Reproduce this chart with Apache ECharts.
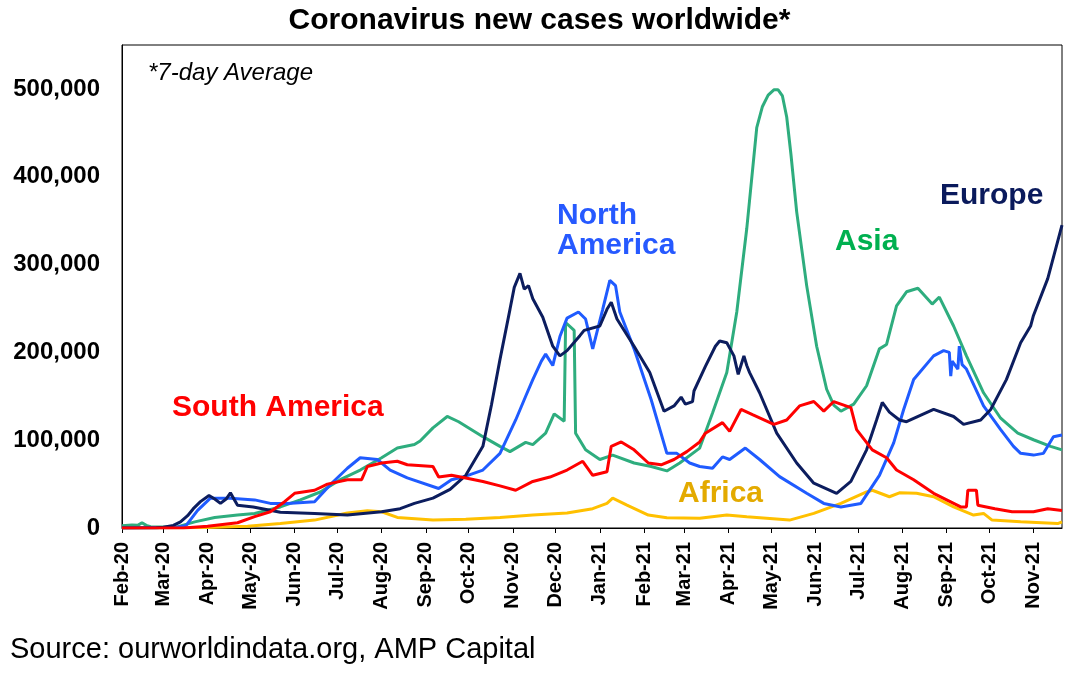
<!DOCTYPE html>
<html>
<head>
<meta charset="utf-8">
<script src="https://cdn.jsdelivr.net/npm/echarts@6/dist/echarts.min.js"></script>
<style>
html,body{margin:0;padding:0;background:#fff;}
#chart{width:1079px;height:683px;}
</style>
</head>
<body>
<div id="chart"></div>
<script>
var startDate = '2020-02-01';
var endDate = '2021-11-21';
var monthNames = ['Jan','Feb','Mar','Apr','May','Jun','Jul','Aug','Sep','Oct','Nov','Dec'];
var yTicks = [0, 100000, 200000, 300000, 400000, 500000];

var europe = [
['2020-02-01',0],['2020-02-25',300],['2020-03-01',800],['2020-03-08',3000],['2020-03-13',7000],['2020-03-18',14000],['2020-03-22',22000],['2020-03-27',30000],['2020-04-02',37000],['2020-04-06',33000],['2020-04-10',28000],['2020-04-14',33000],['2020-04-17',40000],['2020-04-22',26000],['2020-05-03',24000],['2020-05-22',18000],['2020-06-15',16500],['2020-07-08',14700],['2020-08-01',18500],['2020-08-14',22000],['2020-08-24',28000],['2020-09-06',34000],['2020-09-18',44000],['2020-09-29',60000],['2020-10-11',93000],['2020-10-17',140000],['2020-10-23',192000],['2020-10-30',249000],['2020-11-02',274000],['2020-11-06',290000],['2020-11-09',272000],['2020-11-12',276000],['2020-11-15',261000],['2020-11-22',240000],['2020-11-29',207000],['2020-12-04',196000],['2020-12-09',202000],['2020-12-18',219000],['2020-12-21',225000],['2021-01-01',230000],['2021-01-06',249000],['2021-01-09',257000],['2021-01-13',238000],['2021-01-25',207000],['2021-02-05',177000],['2021-02-15',133000],['2021-02-22',139000],['2021-02-27',149000],['2021-03-02',141000],['2021-03-07',144000],['2021-03-08',156000],['2021-03-16',184000],['2021-03-23',207000],['2021-03-26',213000],['2021-03-31',211000],['2021-04-05',196000],['2021-04-08',175000],['2021-04-12',196000],['2021-04-14',185000],['2021-04-16',177000],['2021-04-23',154000],['2021-05-05',108000],['2021-05-19',74000],['2021-05-31',51000],['2021-06-16',39500],['2021-06-26',53000],['2021-07-07',89000],['2021-07-14',123000],['2021-07-18',143000],['2021-07-23',132000],['2021-07-30',123000],['2021-08-04',121000],['2021-08-23',135000],['2021-09-06',127000],['2021-09-13',118000],['2021-09-25',123000],['2021-10-02',135000],['2021-10-13',169000],['2021-10-23',211000],['2021-10-30',230000],['2021-11-01',242000],['2021-11-11',284000],['2021-11-21',345000]
];

var northAmerica = [
['2020-02-01',0],['2020-03-10',500],['2020-03-17',3000],['2020-03-25',20000],['2020-04-03',34000],['2020-04-10',34000],['2020-04-17',34000],['2020-05-04',32000],['2020-05-15',28000],['2020-05-27',28000],['2020-06-15',30000],['2020-06-27',51000],['2020-07-08',68000],['2020-07-17',80000],['2020-07-29',78000],['2020-08-07',66000],['2020-08-19',57000],['2020-09-10',45000],['2020-09-19',55000],['2020-09-29',59000],['2020-10-11',66000],['2020-10-23',85000],['2020-11-03',123000],['2020-11-10',150000],['2020-11-15',169000],['2020-11-21',190000],['2020-11-24',198000],['2020-11-29',185000],['2020-12-04',218000],['2020-12-09',239000],['2020-12-17',246000],['2020-12-22',238000],['2020-12-27',204000],['2021-01-03',249000],['2021-01-08',282000],['2021-01-12',276000],['2021-01-15',246000],['2021-01-25',204000],['2021-02-06',146000],['2021-02-17',85000],['2021-02-24',85000],['2021-03-05',74000],['2021-03-12',70000],['2021-03-21',68000],['2021-03-28',81000],['2021-04-02',78000],['2021-04-13',91000],['2021-04-23',78000],['2021-05-07',58500],['2021-05-26',39500],['2021-06-07',28000],['2021-06-19',24000],['2021-07-03',28000],['2021-07-16',60000],['2021-07-26',97000],['2021-08-02',135000],['2021-08-09',169000],['2021-08-23',196000],['2021-08-30',202000],['2021-09-03',200000],['2021-09-04',173000],['2021-09-05',190000],['2021-09-09',181000],['2021-09-10',207000],['2021-09-12',186000],['2021-09-15',181000],['2021-09-27',139000],['2021-10-09',112000],['2021-10-18',93000],['2021-10-23',85000],['2021-11-01',83000],['2021-11-08',85000],['2021-11-15',104000],['2021-11-21',106000]
];

var asia = [
['2020-02-01',2500],['2020-02-08',3500],['2020-02-12',3000],['2020-02-15',6000],['2020-02-18',3000],['2020-02-21',1500],['2020-03-10',1000],['2020-03-23',7000],['2020-04-06',12000],['2020-04-22',14700],['2020-05-04',16600],['2020-05-22',24000],['2020-06-05',32000],['2020-06-19',41000],['2020-07-03',55000],['2020-07-17',66000],['2020-08-01',80000],['2020-08-12',91000],['2020-08-24',95000],['2020-08-28',99000],['2020-09-06',114000],['2020-09-16',127000],['2020-09-24',121000],['2020-10-11',104000],['2020-10-23',93000],['2020-10-30',87000],['2020-11-10',97500],['2020-11-15',95000],['2020-11-24',108000],['2020-11-30',130000],['2020-12-07',121500],['2020-12-08',234000],['2020-12-14',225000],['2020-12-15',108000],['2020-12-22',89000],['2021-01-01',78000],['2021-01-10',83000],['2021-01-25',74000],['2021-02-06',70000],['2021-02-17',65000],['2021-02-26',74000],['2021-03-12',91000],['2021-03-21',131000],['2021-03-31',177000],['2021-04-07',246000],['2021-04-14',341000],['2021-04-21',456000],['2021-04-25',480000],['2021-04-29',493000],['2021-05-03',499000],['2021-05-06',499000],['2021-05-09',492000],['2021-05-12',468000],['2021-05-15',425000],['2021-05-19',360000],['2021-05-26',276000],['2021-06-02',207000],['2021-06-09',158000],['2021-06-14',140000],['2021-06-19',133000],['2021-06-28',141000],['2021-07-07',162000],['2021-07-16',204000],['2021-07-21',209000],['2021-07-28',253000],['2021-08-04',269000],['2021-08-12',273000],['2021-08-22',255000],['2021-08-27',263000],['2021-09-06',230000],['2021-09-15',196000],['2021-09-27',154000],['2021-10-09',125000],['2021-10-21',108000],['2021-11-01',100500],['2021-11-13',93000],['2021-11-21',89000]
];

var southAmerica = [
['2020-02-01',0],['2020-03-15',0],['2020-04-01',2000],['2020-04-22',6000],['2020-05-04',13000],['2020-05-15',18500],['2020-05-25',30000],['2020-06-01',39500],['2020-06-15',43000],['2020-06-24',50000],['2020-07-08',55000],['2020-07-18',55000],['2020-07-22',70000],['2020-08-01',74000],['2020-08-12',76000],['2020-08-19',72000],['2020-09-06',70000],['2020-09-10',58000],['2020-09-19',60000],['2020-09-29',57000],['2020-10-11',53000],['2020-10-23',48000],['2020-11-03',43000],['2020-11-15',53000],['2020-11-27',58000],['2020-12-09',66000],['2020-12-20',76000],['2020-12-27',60000],['2021-01-06',64000],['2021-01-09',93000],['2021-01-16',98000],['2021-01-25',89000],['2021-02-04',74000],['2021-02-13',72000],['2021-02-22',78000],['2021-03-03',87000],['2021-03-12',98000],['2021-03-16',108000],['2021-03-28',120000],['2021-04-02',110000],['2021-04-10',135000],['2021-04-18',129000],['2021-05-03',118000],['2021-05-12',123000],['2021-05-21',139000],['2021-05-31',144000],['2021-06-07',133000],['2021-06-14',144000],['2021-06-26',137000],['2021-06-30',112000],['2021-07-11',89000],['2021-07-21',80000],['2021-07-28',66000],['2021-08-09',55000],['2021-08-23',39500],['2021-09-11',24000],['2021-09-15',24000],['2021-09-16',43000],['2021-09-22',43000],['2021-09-23',26000],['2021-10-05',22000],['2021-10-17',18500],['2021-11-01',18500],['2021-11-11',22000],['2021-11-21',20000]
];

var africa = [
['2020-02-01',0],['2020-04-01',500],['2020-04-29',2000],['2020-05-22',5000],['2020-06-15',9000],['2020-07-08',17000],['2020-07-22',19600],['2020-08-01',18500],['2020-08-12',12000],['2020-09-06',9000],['2020-09-29',10000],['2020-10-23',12000],['2020-11-15',14700],['2020-12-09',17000],['2020-12-27',22000],['2021-01-06',28000],['2021-01-10',34000],['2021-01-20',26000],['2021-02-04',14700],['2021-02-17',11600],['2021-03-12',11000],['2021-03-31',14700],['2021-04-14',12700],['2021-05-14',9000],['2021-05-31',16600],['2021-06-19',28000],['2021-07-07',41000],['2021-07-11',43000],['2021-07-23',35600],['2021-07-30',40000],['2021-08-11',39500],['2021-08-23',35600],['2021-09-06',24000],['2021-09-20',14700],['2021-09-27',16600],['2021-10-03',9000],['2021-10-23',7000],['2021-11-18',5000],['2021-11-21',7000]
];

// daily category axis
var categories = [];
(function(){
  var d = new Date(startDate + 'T00:00:00Z');
  var e = new Date(endDate + 'T00:00:00Z');
  while (d <= e) {
    categories.push(d.toISOString().slice(0,10));
    d = new Date(d.getTime() + 86400000);
  }
})();

function isMonthStart(idx, val) { return val.slice(8,10) === '01'; }
function monthLabel(val) {
  var m = parseInt(val.slice(5,7),10) - 1;
  return monthNames[m] + '-' + val.slice(2,4);
}

var FONT = '"Liberation Sans", Arial, sans-serif';

var chart = echarts.init(document.getElementById('chart'), null, {renderer:'canvas'});

function lineSeries(name, data, color, z) {
  return {
    name: name, type: 'line', data: data, showSymbol: false, symbol: 'none',
    lineStyle: {color: color, width: 3}, itemStyle: {color: color},
    z: z, animation: false
  };
}

chart.setOption({
  animation: false,
  backgroundColor: '#fff',
  title: {
    text: 'Coronavirus new cases worldwide*',
    left: 'center', top: 1,
    textStyle: {fontFamily: FONT, fontWeight: 'bold', fontSize: 30, color: '#000'}
  },
  grid: {
    left: 122, right: 17, top: 45, bottom: 155,
    show: true, borderColor: '#000', borderWidth: 1, backgroundColor: 'transparent'
  },
  xAxis: {
    type: 'category',
    data: categories,
    boundaryGap: false,
    axisLine: {show: true, lineStyle: {color: '#000', width: 1}},
    axisTick: {show: true, inside: false, length: 5, interval: isMonthStart, lineStyle: {color: '#000'}},
    axisLabel: {
      interval: isMonthStart, rotate: 90, margin: 14,
      formatter: monthLabel,
      fontFamily: FONT, fontWeight: 'bold', fontSize: 20, color: '#000'
    },
    splitLine: {show: false}
  },
  yAxis: {
    type: 'value',
    min: yTicks[0], max: 550000, interval: 100000,
    axisLine: {show: true, lineStyle: {color: '#000', width: 1}},
    axisTick: {show: false},
    splitLine: {show: false},
    axisLabel: {
      showMaxLabel: false, margin: 22,
      formatter: function (v) { return v === 550000 ? '' : v.toLocaleString('en-US'); },
      fontFamily: FONT, fontWeight: 'bold', fontSize: 24, color: '#000'
    }
  },
  series: [
    lineSeries('Africa', africa, '#FFC000', 2),
    lineSeries('Asia', asia, '#2EAD7E', 3),
    lineSeries('North America', northAmerica, '#1F5BFF', 4),
    lineSeries('Europe', europe, '#0C1D5E', 5),
    lineSeries('South America', southAmerica, '#FF0000', 6)
  ],
  graphic: [
    {type:'text', x:148, y:73, style:{text:'*7-day Average', font:'italic 24px ' + FONT, fill:'#000', verticalAlign:'middle', align:'left'}},
    {type:'text', x:172, y:408, style:{text:'South America', font:'bold 30px ' + FONT, fill:'#FF0000', verticalAlign:'middle', align:'left'}},
    {type:'text', x:557, y:216, style:{text:'North', font:'bold 30px ' + FONT, fill:'#2659FF', verticalAlign:'middle', align:'left'}},
    {type:'text', x:557, y:246, style:{text:'America', font:'bold 30px ' + FONT, fill:'#2659FF', verticalAlign:'middle', align:'left'}},
    {type:'text', x:835, y:242, style:{text:'Asia', font:'bold 30px ' + FONT, fill:'#00B050', verticalAlign:'middle', align:'left'}},
    {type:'text', x:940, y:196, style:{text:'Europe', font:'bold 30px ' + FONT, fill:'#0A1A5C', verticalAlign:'middle', align:'left'}},
    {type:'text', x:678, y:494, style:{text:'Africa', font:'bold 30px ' + FONT, fill:'#E3AA00', verticalAlign:'middle', align:'left'}},
    {type:'text', x:10, y:650, style:{text:'Source: ourworldindata.org, AMP Capital', font:'29px ' + FONT, fill:'#000', verticalAlign:'middle', align:'left'}}
  ]
});
</script>
</body>
</html>
